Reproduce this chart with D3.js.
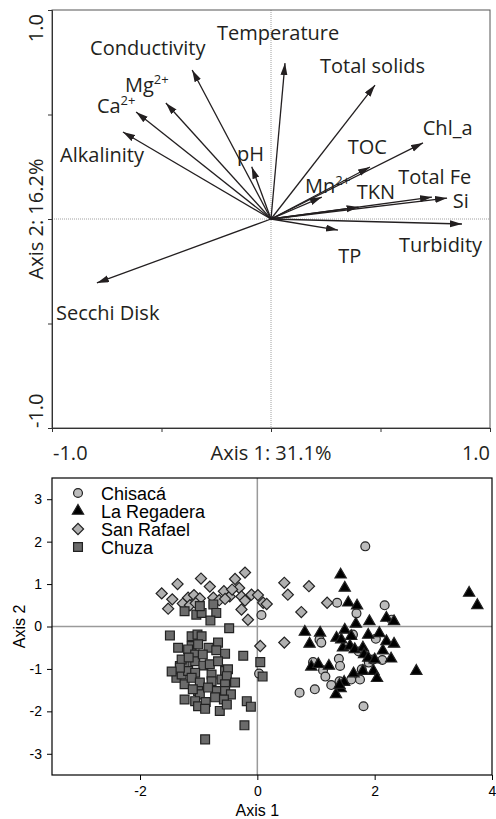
<!DOCTYPE html>
<html lang="es">
<head>
<meta charset="UTF-8">
<title>PCA biplot y ordenación de embalses</title>
<script src="https://d3js.org/d3.v7.min.js"></script>
<style>
    body { margin: 0; background: #fff; }
    svg { display: block; }
    .lbl { font-family: "Open Sans", sans-serif; font-size: 20px; fill: #231f20; }
    .ax2 text { font-family: Arial, "Liberation Sans", sans-serif; font-size: 14px; fill: #000; }
</style>
</head>
<body>
<svg width="496" height="819"></svg>
<script>
// ---- biplot: variable loadings on axis 1 / axis 2 ----
const varNames = ["Temperature", "Conductivity", "Mg", "Ca", "Alkalinity", "pH", "Total solids", "TOC",
    "Chl_a", "Mn", "TKN", "Total Fe", "Si", "Turbidity", "TP", "Secchi Disk"];
const varSup = ["", "", "2+", "2+", "", "", "", "", "", "2+", "", "", "", "", "", ""];
const load1 = [0.064, -0.36, -0.48, -0.616, -0.676, -0.088, 0.475, 0.452, 0.694, 0.232, 0.40, 0.735, 0.804, 0.872, 0.306, -0.795];
const load2 = [0.746, 0.713, 0.555, 0.512, 0.416, 0.25, 0.641, 0.249, 0.364, 0.105, 0.057, 0.105, 0.10, -0.024, -0.053, -0.306];
// label anchors (data units, left / baseline)
const labX = [-0.247, -0.826, -0.667, -0.795, -0.963, -0.155, 0.224, 0.35, 0.693, 0.155, 0.391, 0.581, 0.83, 0.584, 0.307, -0.982];
const labY = [0.856, 0.785, 0.608, 0.507, 0.273, 0.278, 0.70, 0.311, 0.402, 0.123, 0.094, 0.168, 0.055, -0.156, -0.209, -0.483];

// ---- site scores ----
const chisaca = [[1.84, 1.89], [1.36, 0.56], [2.17, 0.50], [1.69, 0.31], [0.07, 0.27], [2.29, 0.16], [1.06, -0.31],
    [1.09, -0.38], [1.63, -0.19], [2.02, -0.29], [1.39, -0.76], [1.41, -0.93], [0.95, -0.84], [1.12, -1.03],
    [1.16, -1.18], [1.78, -1.01], [1.90, -0.85], [2.13, -0.79], [1.97, -0.78], [1.40, -1.29], [1.26, -1.38],
    [0.98, -1.48], [0.72, -1.56], [1.60, -1.25], [1.75, -1.25], [1.81, -1.88], [0.03, -1.11], [1.73, -0.59]];
const laRegadera = [[1.42, 1.22], [1.49, 0.91], [1.55, 0.56], [1.70, 0.49], [1.91, 0.12], [2.20, 0.20], [2.33, 0.12],
    [3.61, 0.79], [3.75, 0.50], [0.81, -0.13], [1.07, -0.15], [0.89, -0.41], [1.35, -0.27], [1.49, -0.08],
    [1.68, 0.06], [1.60, -0.23], [1.89, -0.20], [2.08, -0.16], [2.20, -0.35], [2.33, -0.41], [1.46, -0.50],
    [1.58, -0.46], [1.66, -0.54], [1.80, -0.50], [2.14, -0.57], [1.82, -0.66], [2.28, -0.76], [1.89, -0.74],
    [2.00, -0.78], [0.92, -0.95], [1.04, -0.89], [1.22, -0.93], [1.64, -1.11], [1.80, -1.05], [1.98, -1.05],
    [2.04, -1.22], [1.48, -1.31], [1.42, -1.46], [1.34, -1.60], [2.71, -1.05], [1.43, -0.31], [1.40, -1.38]];
const sanRafael = [[-1.63, 0.78], [-1.45, 0.64], [-1.36, 1.00], [-1.52, 0.42], [-1.27, 0.54], [-1.18, 0.68],
    [-1.08, 0.74], [-0.96, 1.13], [-0.81, 0.94], [-0.98, 0.66], [-0.75, 0.68], [-0.57, 0.83], [-0.47, 0.71],
    [-0.38, 1.12], [-0.21, 1.27], [-0.31, 0.91], [-0.43, 0.87], [-0.27, 0.71], [-0.21, 0.61], [-0.10, 0.75],
    [0.01, 0.74], [0.10, 0.56], [0.16, 0.53], [-0.27, 0.40], [-0.16, 0.16], [0.46, 1.03], [0.52, 0.75],
    [0.88, 0.95], [0.75, 0.34], [1.19, 0.56], [0.05, -0.46], [0.46, -0.38], [-1.15, 0.50], [-1.05, 0.55],
    [-0.65, 0.62], [-0.55, 0.65]];
const chuza = [[-1.24, 0.36], [-1.04, 0.28], [-0.95, 0.32], [-0.98, 0.48], [-0.75, 0.52], [-0.70, 0.32],
    [-0.80, 0.14], [-0.48, -0.04], [-1.49, -0.21], [-1.35, -0.50], [-1.12, -0.23], [-1.02, -0.19], [-0.95, -0.23],
    [-1.12, -0.46], [-1.01, -0.42], [-0.83, -0.50], [-0.67, -0.38], [-0.70, -0.56], [-0.55, -0.64], [-0.24, -0.69],
    [-1.18, -0.54], [-1.06, -0.66], [-1.32, -0.93], [-1.24, -0.89], [-1.06, -0.82], [-0.92, -0.92], [-0.81, -0.89],
    [-0.67, -0.82], [-0.55, -1.05], [-0.50, -1.01], [-1.38, -1.21], [-1.29, -1.13], [-1.18, -1.05], [-1.06, -1.09],
    [-0.78, -1.13], [-0.78, -1.29], [-0.61, -1.25], [-0.52, -1.17], [-0.38, -1.32], [-1.24, -1.36], [-1.12, -1.21],
    [-0.98, -1.32], [-1.01, -1.52], [-0.98, -1.60], [-0.70, -1.52], [-0.55, -1.36], [-0.55, -1.52], [-0.45, -1.60],
    [-0.57, -1.72], [-1.24, -1.72], [-1.06, -1.76], [-1.01, -1.88], [-0.88, -1.78], [-0.89, -1.94], [-0.64, -1.99],
    [-0.52, -1.84], [-0.18, -1.76], [-0.11, -1.89], [-0.22, -2.33], [-0.89, -2.66], [0.05, -0.84], [0.09, -1.18],
    [-1.29, -0.78], [-1.32, -0.97], [-1.10, -1.48], [-0.72, -1.67], [-0.84, -1.44], [-1.17, -0.73], [-0.93, -0.66],
    [-1.46, -1.06]];

const siteNames = ["Chisacá", "La Regadera", "San Rafael", "Chuza"];

const svg = d3.select("svg");
const ink = "#231f20";

// ================= top: biplot =================
const bx = d3.scaleLinear().domain([-1, 1]).range([52, 490]);
const by = d3.scaleLinear().domain([-1, 1]).range([428, 10]);

svg.append("defs").append("marker")
    .attr("id", "head")
    .attr("markerUnits", "userSpaceOnUse")
    .attr("markerWidth", 13).attr("markerHeight", 8)
    .attr("refX", 12).attr("refY", 3.5)
    .attr("orient", "auto")
    .append("path")
    .attr("d", "M0,0 L12,3.5 L0,7 Z")
    .attr("fill", ink);

const upper = svg.append("g");

// dotted zero lines
upper.append("line").attr("x1", bx(0)).attr("x2", bx(0)).attr("y1", by(1)).attr("y2", by(-1))
    .attr("stroke", "#888").attr("stroke-width", 0.8).attr("stroke-dasharray", "1,1");
upper.append("line").attr("x1", bx(-1)).attr("x2", bx(1)).attr("y1", by(0)).attr("y2", by(0))
    .attr("stroke", "#888").attr("stroke-width", 0.8).attr("stroke-dasharray", "1,1");

// frame
upper.append("rect").attr("x", bx(-1)).attr("y", by(1))
    .attr("width", bx(1) - bx(-1)).attr("height", by(-1) - by(1))
    .attr("fill", "none").attr("stroke", "#555").attr("stroke-width", 1);

upper.append("g").attr("transform", `translate(0,${by(-1)})`)
    .call(d3.axisBottom(bx).tickValues([-1, -0.5, 0, 0.5, 1]).tickSize(4).tickFormat(""))
    .call(g => g.selectAll("line,path").attr("stroke", "#333"));
upper.append("g").attr("transform", `translate(${bx(-1)},0)`)
    .call(d3.axisLeft(by).tickValues([-1, -0.5, 0, 0.5, 1]).tickSize(4).tickFormat(""))
    .call(g => g.selectAll("line,path").attr("stroke", "#333"));

// arrows
upper.selectAll(".arr").data(varNames).enter().append("line")
    .attr("class", "arr")
    .attr("x1", bx(0)).attr("y1", by(0))
    .attr("x2", (d, i) => bx(load1[i])).attr("y2", (d, i) => by(load2[i]))
    .attr("stroke", ink).attr("stroke-width", 1.3)
    .attr("marker-end", "url(#head)");

// labels
const labs = upper.selectAll(".lbl").data(varNames).enter().append("text")
    .attr("class", "lbl")
    .attr("x", (d, i) => bx(labX[i])).attr("y", (d, i) => by(labY[i]));
labs.append("tspan").text(d => d);
labs.append("tspan")
    .attr("dy", -8).style("font-size", "13px")
    .text((d, i) => varSup[i]);

// axis captions
upper.append("text").attr("class", "lbl").attr("x", bx(-1) + 1).attr("y", 460).text("-1.0");
upper.append("text").attr("class", "lbl").attr("x", bx(1)).attr("y", 460).attr("text-anchor", "end").text("1.0");
upper.append("text").attr("class", "lbl").attr("x", bx(0)).attr("y", 460).attr("text-anchor", "middle").text("Axis 1: 31.1%");
upper.append("text").attr("class", "lbl").attr("transform", `translate(43,${by(1) + 4}) rotate(-90)`)
    .attr("text-anchor", "end").text("1.0");
upper.append("text").attr("class", "lbl").attr("transform", `translate(43,${by(-1)}) rotate(-90)`)
    .attr("text-anchor", "start").text("-1.0");
upper.append("text").attr("class", "lbl").attr("transform", `translate(43,${by(0)}) rotate(-90)`)
    .attr("text-anchor", "middle").text("Axis 2: 16.2%");

// ================= bottom: site scores =================
const sx = d3.scaleLinear().domain([-3.5, 4]).range([52, 492]);
const sy = d3.scaleLinear().domain([-3.5, 3.5]).range([775, 478]);

const bot = svg.append("g");

bot.append("line").attr("x1", sx(0)).attr("x2", sx(0)).attr("y1", sy(3.5)).attr("y2", sy(-3.5))
    .attr("stroke", "#9a9a9a").attr("stroke-width", 1.5);
bot.append("line").attr("x1", sx(-3.5)).attr("x2", sx(4)).attr("y1", sy(0)).attr("y2", sy(0))
    .attr("stroke", "#9a9a9a").attr("stroke-width", 1.5);

const styles = [
    { data: chisaca, sym: d3.symbolCircle, size: 62, fill: "#bcbcbc", rot: 0 },
    { data: laRegadera, sym: d3.symbolTriangle, size: 55, fill: "#000", rot: 0 },
    { data: sanRafael, sym: d3.symbolSquare, size: 62, fill: "#b0b0b0", rot: 45 },
    { data: chuza, sym: d3.symbolSquare, size: 78, fill: "#6b6b6b", rot: 0 }
];

styles.forEach(s => {
    bot.append("g").selectAll("path").data(s.data).enter().append("path")
        .attr("d", d3.symbol().type(s.sym).size(s.size))
        .attr("transform", d => `translate(${sx(d[0])},${sy(d[1])}) rotate(${s.rot})`)
        .attr("fill", s.fill).attr("stroke", "#222").attr("stroke-width", 1.2);
});

// frame + axes
bot.append("rect").attr("x", sx(-3.5)).attr("y", sy(3.5))
    .attr("width", sx(4) - sx(-3.5)).attr("height", sy(-3.5) - sy(3.5))
    .attr("fill", "none").attr("stroke", "#000").attr("stroke-width", 1.2);

bot.append("g").attr("class", "ax2").attr("transform", `translate(0,${sy(-3.5)})`)
    .call(d3.axisBottom(sx).tickValues([-2, 0, 2, 4]).tickSize(5).tickPadding(6).tickFormat(d => String(d)))
    .call(g => g.select(".domain").remove());
bot.append("g").attr("class", "ax2").attr("transform", `translate(${sx(-3.5)},0)`)
    .call(d3.axisLeft(sy).tickValues([-3, -2, -1, 0, 1, 2, 3]).tickSize(5).tickPadding(5).tickFormat(d => String(d)))
    .call(g => g.select(".domain").remove());

bot.append("text").attr("x", sx(0)).attr("y", 816).attr("text-anchor", "middle")
    .style("font-family", "Arial, sans-serif").style("font-size", "16px").text("Axis 1");
bot.append("text").attr("transform", `translate(25,${sy(0)}) rotate(-90)`).attr("text-anchor", "middle")
    .style("font-family", "Arial, sans-serif").style("font-size", "16px").text("Axis 2");

// legend
const leg = bot.append("g");
styles.forEach((s, i) => {
    const yy = 493 + i * 18;
    leg.append("path")
        .attr("d", d3.symbol().type(s.sym).size(s.size))
        .attr("transform", `translate(78,${yy}) rotate(${s.rot})`)
        .attr("fill", s.fill).attr("stroke", "#222").attr("stroke-width", 1.2);
    leg.append("text").attr("x", 101).attr("y", yy + 6.5)
        .style("font-family", "Arial, sans-serif").style("font-size", "18px")
        .text(siteNames[i]);
});
</script>
</body>
</html>
